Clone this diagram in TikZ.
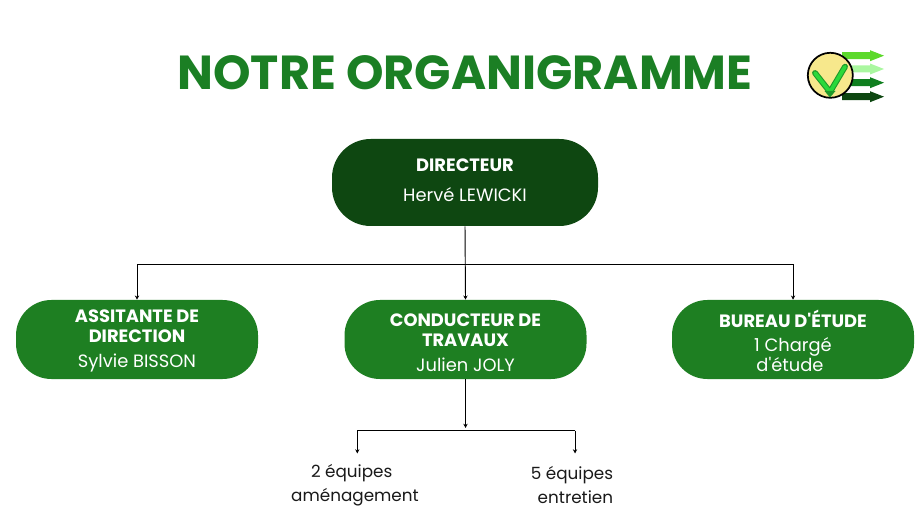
\documentclass[tikz,border=0pt]{standalone}
\usepackage{fontspec}
\setmainfont{Poppins}
\newfontfamily\plainpop{Poppins}
\newcommand{\apos}{{\plainpop '}}
\usetikzlibrary{arrows.meta}
\definecolor{titlegreen}{HTML}{1B7F24}
\definecolor{darkgreen}{HTML}{0E4711}
\definecolor{midgreen}{HTML}{1E7F22}
\definecolor{logoyellow}{HTML}{F7E88C}
\definecolor{logov}{HTML}{2BD93A}
\definecolor{logoa}{HTML}{5CD92B}
\definecolor{logob}{HTML}{AAF7A0}
\definecolor{logoc}{HTML}{0F7F1F}
\tikzset{
  boss/.style={draw=none,fill=darkgreen,rectangle,rounded corners=29pt,minimum width=199.5pt,minimum height=65.25pt,inner sep=0pt},
  unit/.style={draw=none,fill=midgreen,rectangle,rounded corners=26.5pt,minimum width=181.5pt,minimum height=59.25pt,inner sep=0pt},
  boxtext/.style={text=white,align=center,inner sep=0pt,font=\fontsize{13.4}{13.4}\selectfont},
  team/.style={inner sep=0pt,text=black!90,font=\fontsize{12.6}{18}\selectfont},
  link/.style={draw=black,line width=0.7pt,-{Stealth[length=3.2pt,width=3.2pt]}},
  wire/.style={draw=black,line width=0.7pt},
}
\begin{document}
\begin{tikzpicture}[x=0.75pt,y=0.75pt,yscale=-1,xscale=1]
\useasboundingbox (0,0) rectangle (919,530);

% Title
\node (titre) at (465,73) [inner sep=0pt,text=titlegreen,font=\fontsize{35.8}{35.8}\selectfont\bfseries] {NOTRE ORGANIGRAMME};

% Boxes
\node (directeur) at (465,182.5) [boss] {};
\node (assistante) at (137,339.5) [unit] {};
\node (conducteur) at (465.5,339.5) [unit] {};
\node (bureau) at (793,339.5) [unit] {};

% Box texts
\node (directeurtxt) at (465,180.5) [boxtext] {\textbf{DIRECTEUR}\\[9.2pt]Hervé LEWICKI};
\node (assistantetxt) at (137,341) [boxtext] {\textbf{ASSITANTE DE}\\[1.7pt]\textbf{DIRECTION}\\[5.4pt]Sylvie BISSON};
\node (conducteurtxt) at (465.5,343) [boxtext] {\textbf{CONDUCTEUR DE}\\[1.7pt]\textbf{TRAVAUX}\\[5.4pt]Julien JOLY};
\node (bureautxt) at (793,341) [boxtext] {\textbf{BUREAU D\apos ÉTUDE}\\[4pt]1 Chargé\\[0pt]d\apos étude\hspace*{4.5pt}};

% Teams
\node (amenag) at (355,485) [team,align=center] {2 équipes\hspace*{5pt}\\aménagement};
\node (entretien) at (572,485) [team,align=right] {5 équipes\\entretien};

% Connectors
\coordinate (busleft) at (137,264.5);
\coordinate (busright) at (793,264.5);
\coordinate (teamfork) at (465.5,428);
\coordinate (teamleft) at (357.3,430.7);
\coordinate (teamright) at (575,430.7);
\coordinate (teamleftend) at (357.3,453.5);
\coordinate (teamrightend) at (575,453.5);
\draw[link] (directeur.south) -- (conducteur.north);
\draw[link] (busleft) -- (busright) -- (bureau.north);
\draw[link] (busleft) -- (assistante.north);
\draw[link] (conducteur.south) -- (teamfork);
\draw[wire] (teamleft) -- (teamright);
\draw[link] (teamleft) -- (teamleftend);
\draw[link] (teamright) -- (teamrightend);

% Logo
\foreach \ypos/\col in {55.7/logoa,69/logob,82.7/logoc,96.7/darkgreen}{
  \fill[\col] (842,\ypos-3.5) -- (870,\ypos-3.5) -- (870,\ypos-5.5) -- (884,\ypos) -- (870,\ypos+5.5) -- (870,\ypos+3.5) -- (842,\ypos+3.5) -- cycle;
}
\draw[fill=logoyellow,line width=1.3pt] (830.3,75.3) circle (22.5);
\draw[logov!70!black,line width=4.4pt,line cap=round,line join=round] (815,73) -- (830,92) -- (845,66.7);
\draw[logov,line width=2.8pt,line cap=round,line join=round] (815,73) -- (830,92) -- (845,66.7);
\fill[logov!70!black] (824.5,91) -- (835.5,91) -- (830,97.5) -- cycle;

\end{tikzpicture}
\end{document}
